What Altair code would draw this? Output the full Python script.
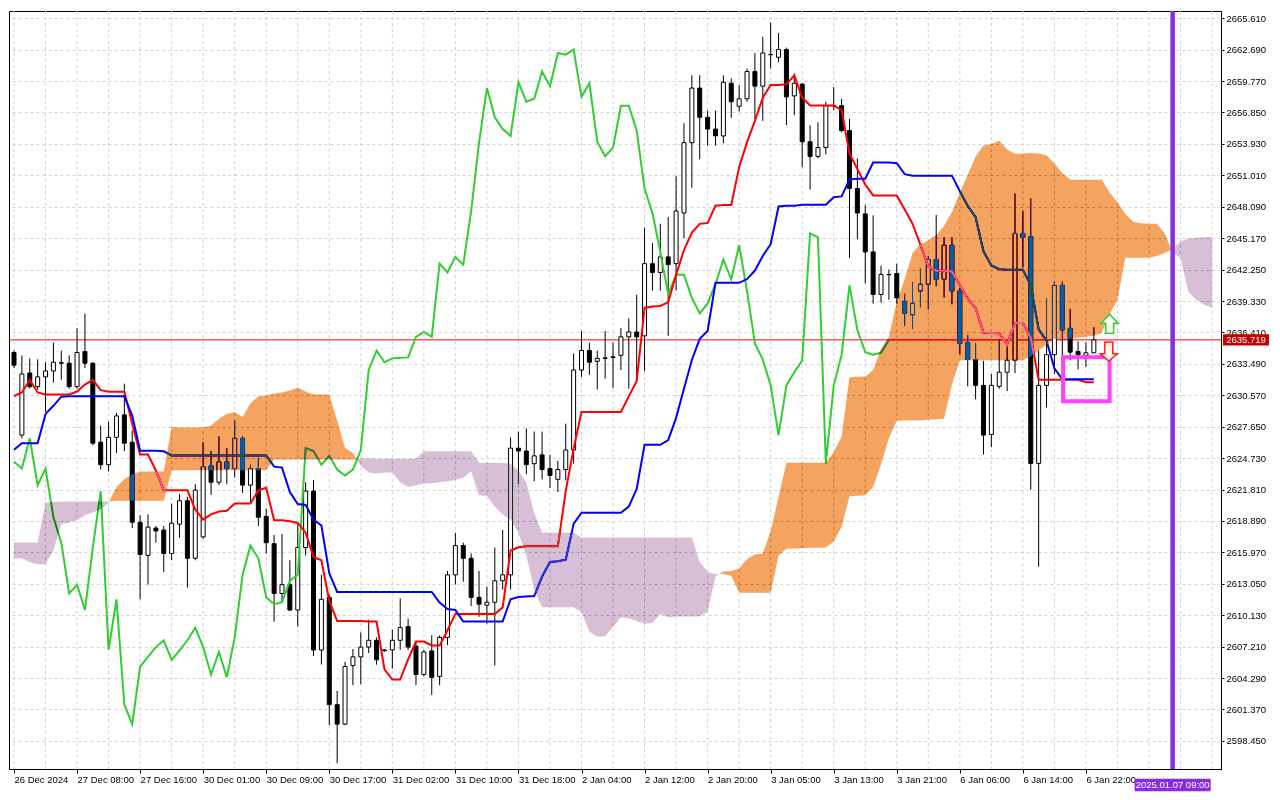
import altair as alt
import pandas as pd

# ---------------- data (hourly XAUUSD-like, Ichimoku) ----------------
x_labels = ['26 Dec 2024', '27 Dec 08:00', '27 Dec 16:00', '30 Dec 01:00', '30 Dec 09:00',
            '30 Dec 17:00', '31 Dec 02:00', '31 Dec 10:00', '31 Dec 18:00', '2 Jan 04:00',
            '2 Jan 12:00', '2 Jan 20:00', '3 Jan 05:00', '3 Jan 13:00', '3 Jan 21:00',
            '6 Jan 06:00', '6 Jan 14:00', '6 Jan 22:00']
x_ticks = [0, 8, 16, 24, 32, 40, 48, 56, 64, 72, 80, 88, 96, 104, 112, 120, 128, 136]

y_ticks = [2598.450, 2601.370, 2604.290, 2607.210, 2610.130, 2613.050, 2615.970, 2618.890,
           2621.810, 2624.730, 2627.650, 2630.570, 2633.490, 2636.410, 2639.330, 2642.250,
           2645.170, 2648.090, 2651.010, 2653.930, 2656.850, 2659.770, 2662.690, 2665.610]

opens = [2634.55, 2626.87, 2632.64, 2631.37, 2632.28, 2632.83, 2633.60, 2633.55, 2631.37, 2634.64,
         2633.55, 2626.21, 2624.12, 2626.66, 2628.75, 2626.21, 2618.77, 2615.69, 2618.23, 2618.05,
         2615.87, 2618.59, 2620.77, 2615.42, 2617.41, 2624.03, 2622.49, 2624.39, 2623.76, 2626.57,
         2622.22, 2623.76, 2619.32, 2616.78, 2612.15, 2612.97, 2610.61, 2616.42, 2621.67, 2606.90,
         2611.79, 2601.82, 2600.01, 2605.45, 2606.26, 2607.17, 2607.80, 2606.90, 2606.90, 2607.80,
         2609.07, 2607.26, 2604.63, 2606.81, 2604.45, 2608.07, 2613.88, 2616.60, 2615.42, 2611.79,
         2611.07, 2611.34, 2613.33, 2613.88, 2625.66, 2625.39, 2624.21, 2625.03, 2623.76, 2622.76,
         2623.67, 2625.48, 2632.92, 2634.73, 2633.73, 2634.00, 2634.14, 2634.28, 2636.00, 2636.45,
         2636.09, 2642.80, 2641.98, 2643.43, 2642.80, 2647.51, 2654.04, 2659.12, 2656.40, 2655.31,
         2654.67, 2659.57, 2657.43, 2658.12, 2660.66, 2659.30, 2662.24, 2661.98, 2662.70, 2658.39,
         2659.48, 2654.13, 2652.77, 2653.59, 2657.48, 2657.48, 2655.17, 2649.78, 2647.42, 2643.89,
         2639.94, 2641.80, 2641.89, 2639.30, 2638.06, 2640.26, 2640.89, 2643.19, 2641.35, 2644.52,
         2640.26, 2635.48, 2633.89, 2631.49, 2626.93, 2631.40, 2632.71, 2633.82, 2645.61, 2645.31,
         2624.24, 2631.49, 2634.34, 2640.78, 2636.79, 2634.64, 2634.28, 2634.52]

highs = [2634.73, 2634.28, 2634.00, 2633.91, 2633.64, 2635.45, 2634.73, 2634.28, 2636.81, 2638.17,
         2633.64, 2627.75, 2628.11, 2628.93, 2631.65, 2627.29, 2619.41, 2619.50, 2618.41, 2618.41,
         2620.50, 2621.40, 2621.13, 2622.31, 2626.21, 2625.39, 2626.75, 2625.66, 2628.20, 2626.75,
         2624.12, 2624.76, 2620.04, 2617.59, 2617.68, 2615.24, 2618.59, 2622.49, 2622.67, 2613.88,
         2612.06, 2603.09, 2605.81, 2606.99, 2608.53, 2609.71, 2608.07, 2606.99, 2608.80, 2611.70,
         2609.80, 2607.71, 2606.90, 2608.26, 2608.26, 2614.24, 2617.78, 2616.87, 2615.87, 2614.24,
         2612.79, 2616.42, 2618.05, 2626.66, 2627.20, 2627.48, 2627.20, 2627.20, 2625.03, 2624.48,
         2627.93, 2634.46, 2636.54, 2635.45, 2634.73, 2636.54, 2635.45, 2636.81, 2637.72, 2639.90,
         2646.15, 2644.70, 2646.51, 2647.15, 2650.96, 2655.85, 2660.30, 2660.30, 2657.03, 2657.03,
         2660.30, 2660.02, 2659.39, 2660.93, 2662.38, 2663.88, 2665.21, 2664.24, 2662.88, 2660.48,
         2659.57, 2655.67, 2655.94, 2657.85, 2659.21, 2658.12, 2656.25, 2652.59, 2648.24, 2647.29,
         2642.62, 2642.25, 2642.80, 2640.01, 2641.08, 2642.34, 2643.52, 2647.33, 2645.25, 2645.25,
         2640.53, 2636.18, 2635.39, 2633.76, 2632.55, 2635.79, 2635.09, 2649.33, 2647.69, 2648.87,
         2634.73, 2639.62, 2641.14, 2641.14, 2638.60, 2635.57, 2635.48, 2636.90]

lows = [2633.10, 2626.57, 2631.19, 2631.10, 2629.02, 2631.74, 2632.01, 2631.19, 2631.19, 2633.10,
        2625.93, 2623.67, 2623.49, 2625.21, 2625.39, 2618.23, 2611.61, 2612.97, 2616.87, 2614.15,
        2615.24, 2617.32, 2612.70, 2615.24, 2617.23, 2621.31, 2622.22, 2622.31, 2622.94, 2621.49,
        2620.59, 2618.41, 2615.87, 2609.53, 2611.34, 2610.52, 2609.07, 2615.69, 2606.35, 2605.54,
        2599.92, 2596.38, 2599.92, 2603.63, 2603.72, 2606.62, 2605.54, 2606.72, 2605.17, 2606.90,
        2606.90, 2603.63, 2604.45, 2602.73, 2603.63, 2607.35, 2612.97, 2613.24, 2610.98, 2609.98,
        2609.34, 2605.45, 2612.52, 2612.52, 2622.31, 2623.22, 2622.58, 2622.76, 2621.95, 2621.58,
        2622.67, 2624.21, 2632.28, 2632.46, 2631.10, 2632.10, 2631.24, 2632.92, 2631.19, 2632.01,
        2632.83, 2640.30, 2640.30, 2636.09, 2640.30, 2645.15, 2649.87, 2652.50, 2653.77, 2653.77,
        2653.99, 2656.35, 2656.94, 2657.85, 2656.25, 2656.07, 2660.93, 2661.52, 2655.67, 2656.61,
        2651.77, 2649.69, 2652.59, 2652.95, 2657.07, 2654.99, 2643.34, 2645.06, 2640.98, 2639.08,
        2639.17, 2639.44, 2639.08, 2637.00, 2636.72, 2638.75, 2638.56, 2640.71, 2639.65, 2639.02,
        2634.37, 2631.40, 2630.20, 2625.06, 2625.75, 2631.17, 2630.95, 2632.62, 2642.44, 2621.79,
        2614.63, 2629.44, 2632.55, 2633.82, 2633.82, 2632.98, 2633.22, 2634.46]

closes = [2633.37, 2632.55, 2631.37, 2632.28, 2632.83, 2633.64, 2633.55, 2631.37, 2634.55, 2633.55,
          2626.12, 2624.12, 2626.66, 2628.65, 2626.12, 2618.77, 2615.78, 2618.32, 2617.96, 2615.87,
          2618.68, 2620.77, 2615.42, 2621.76, 2623.94, 2622.49, 2624.39, 2623.76, 2626.57, 2622.22,
          2623.76, 2619.23, 2616.87, 2612.15, 2612.97, 2610.61, 2616.42, 2621.67, 2606.90, 2611.61,
          2601.82, 2600.01, 2605.36, 2606.26, 2607.17, 2607.80, 2605.99, 2606.85, 2607.80, 2608.98,
          2607.17, 2604.63, 2606.72, 2604.36, 2608.07, 2613.88, 2616.60, 2615.42, 2611.79, 2611.16,
          2611.34, 2613.33, 2613.88, 2625.66, 2625.39, 2624.12, 2624.94, 2623.67, 2623.12, 2623.67,
          2625.48, 2632.92, 2634.73, 2633.64, 2634.00, 2634.05, 2634.09, 2636.00, 2636.45, 2636.00,
          2642.80, 2641.98, 2643.43, 2642.71, 2647.69, 2654.04, 2659.12, 2656.40, 2655.31, 2654.67,
          2659.66, 2657.85, 2658.12, 2660.66, 2659.30, 2662.38, 2662.22, 2662.70, 2658.30, 2659.57,
          2654.13, 2652.77, 2653.59, 2657.48, 2657.47, 2655.17, 2649.78, 2647.51, 2643.89, 2639.94,
          2641.80, 2641.77, 2639.62, 2638.17, 2639.11, 2640.89, 2643.19, 2641.35, 2644.52, 2640.26,
          2635.39, 2633.89, 2631.49, 2626.87, 2631.49, 2632.71, 2633.82, 2645.61, 2645.25, 2624.24,
          2631.49, 2634.34, 2640.78, 2636.63, 2634.58, 2634.34, 2634.52, 2635.719]

tenkan = [2630.50, 2630.83, 2632.01, 2630.83, 2630.65, 2630.65, 2630.65, 2630.65, 2630.92, 2631.56,
          2632.01, 2631.04, 2630.89, 2630.89, 2630.89, 2627.93, 2625.06, 2625.06, 2623.58, 2621.74,
          2621.74, 2621.74, 2621.74, 2619.95, 2619.02, 2619.50, 2619.77, 2619.83, 2620.52, 2620.52,
          2620.52, 2621.74, 2621.97, 2618.95, 2618.95, 2618.86, 2618.71, 2617.80, 2615.54, 2615.24,
          2611.46, 2609.59, 2609.59, 2609.59, 2609.59, 2609.55, 2609.55, 2605.11, 2604.15, 2604.15,
          2606.02, 2607.68, 2607.68, 2607.32, 2607.32, 2608.74, 2610.25, 2610.25, 2610.25, 2610.25,
          2610.25, 2610.25, 2610.86, 2616.14, 2616.44, 2616.53, 2616.53, 2616.53, 2616.53, 2616.53,
          2621.67, 2625.61, 2629.02, 2629.02, 2629.02, 2629.02, 2629.02, 2629.02, 2630.47, 2631.88,
          2638.69, 2638.81, 2638.87, 2639.23, 2641.74, 2644.07, 2645.68, 2646.50, 2646.57, 2648.18,
          2648.26, 2648.26, 2651.77, 2654.09, 2656.07, 2658.22, 2659.40, 2659.40, 2659.48, 2660.30,
          2658.22, 2657.50, 2657.50, 2657.50, 2657.50, 2657.07, 2653.02, 2651.59, 2650.16, 2649.14,
          2649.14, 2649.14, 2649.14, 2647.83, 2646.51, 2644.55, 2642.53, 2642.14, 2642.14, 2642.07,
          2640.78, 2639.56, 2638.65, 2636.39, 2636.36, 2636.33, 2635.27, 2637.29, 2637.29, 2635.93,
          2632.01, 2632.01, 2632.01, 2632.01, 2632.01, 2632.01, 2631.78, 2631.78]

kijun = [2625.51, 2626.12, 2626.12, 2626.12, 2628.84, 2629.59, 2630.44, 2630.47, 2630.47, 2630.47,
         2630.47, 2630.47, 2630.47, 2630.47, 2630.47, 2628.68, 2625.42, 2625.42, 2625.42, 2625.36,
         2624.98, 2624.98, 2624.98, 2624.98, 2624.98, 2624.98, 2624.98, 2624.98, 2624.98, 2624.98,
         2624.98, 2624.98, 2624.98, 2623.94, 2623.85, 2621.58, 2620.47, 2620.38, 2619.02, 2618.47,
         2614.03, 2612.29, 2612.29, 2612.29, 2612.29, 2612.29, 2612.29, 2612.29, 2612.29, 2612.29,
         2612.29, 2612.29, 2612.29, 2612.29, 2611.31, 2610.70, 2610.61, 2609.55, 2609.55, 2609.55,
         2609.55, 2609.55, 2609.55, 2611.61, 2611.82, 2611.86, 2611.91, 2613.72, 2615.08, 2615.15,
         2615.29, 2618.62, 2619.66, 2619.66, 2619.66, 2619.66, 2619.66, 2619.66, 2620.23, 2621.86,
         2625.97, 2625.97, 2625.97, 2626.40, 2628.47, 2631.17, 2633.85, 2635.82, 2636.54, 2641.02,
         2641.02, 2641.02, 2641.02, 2641.37, 2642.16, 2643.52, 2644.61, 2648.11, 2648.18, 2648.18,
         2648.27, 2648.27, 2648.27, 2648.27, 2648.97, 2649.05, 2650.62, 2650.69, 2650.69, 2652.20,
         2652.20, 2652.20, 2652.14, 2651.12, 2650.98, 2650.98, 2650.98, 2650.98, 2650.98, 2650.98,
         2649.53, 2648.17, 2647.12, 2643.95, 2642.64, 2642.28, 2642.23, 2642.23, 2642.23, 2640.78,
         2636.70, 2635.64, 2633.07, 2632.05, 2632.05, 2632.05, 2632.05, 2632.05]

senkou_a = [2615.42, 2615.42, 2615.06, 2614.87, 2614.87, 2616.14, 2618.59, 2618.77, 2618.95, 2619.41,
            2619.68, 2619.95, 2620.59, 2622.04, 2622.76, 2623.24, 2623.49, 2623.49, 2623.49, 2623.49,
            2627.63, 2627.57, 2627.57, 2627.57, 2627.57, 2627.75, 2628.38, 2628.84, 2629.02, 2628.56,
            2629.83, 2630.47, 2630.56, 2630.74, 2630.83, 2631.01, 2631.26, 2630.92, 2630.65, 2630.65,
            2630.65, 2628.23, 2625.66, 2625.21, 2624.03, 2623.40, 2623.31, 2623.40, 2623.40, 2622.49,
            2622.04, 2622.22, 2622.34, 2622.40, 2622.49, 2622.58, 2622.70, 2622.94, 2623.49, 2621.28,
            2621.22, 2620.22, 2619.50, 2619.02, 2617.80, 2615.69, 2612.52, 2610.86, 2610.86, 2610.86,
            2610.86, 2610.86, 2610.43, 2608.62, 2608.14, 2608.17, 2609.04, 2609.95, 2609.86, 2609.59,
            2609.34, 2609.43, 2610.25, 2609.95, 2610.01, 2610.01, 2610.01, 2610.01, 2610.43, 2613.72,
            2614.19, 2614.24, 2614.48, 2615.36, 2615.78, 2615.87, 2617.96, 2621.13, 2624.30, 2624.30,
            2624.30, 2624.30, 2624.30, 2624.30, 2625.30, 2626.75, 2632.25, 2632.28, 2632.31, 2632.92,
            2634.91, 2636.00, 2639.26, 2641.35, 2643.79, 2644.61, 2644.97, 2645.43, 2646.33, 2647.60,
            2649.42, 2651.05, 2652.77, 2653.77, 2653.92, 2654.22, 2653.40, 2653.01, 2653.04, 2653.09,
            2653.04, 2652.86, 2652.14, 2651.23, 2650.59, 2650.59, 2650.59, 2650.59, 2650.59, 2649.42,
            2648.51, 2647.42, 2646.70, 2646.56, 2646.51, 2646.51, 2645.61, 2643.79, 2643.34, 2640.17,
            2639.44, 2638.99, 2638.72]

senkou_b = [2616.90, 2616.90, 2616.90, 2616.90, 2620.59, 2620.68, 2620.68, 2620.70, 2620.70, 2620.70,
            2620.70, 2620.70, 2620.70, 2620.77, 2620.77, 2620.77, 2620.77, 2620.77, 2620.77, 2620.77,
            2623.58, 2623.61, 2623.61, 2623.61, 2623.61, 2623.61, 2623.61, 2623.61, 2623.61, 2623.61,
            2623.61, 2623.61, 2623.61, 2624.60, 2624.60, 2624.60, 2624.60, 2624.60, 2624.60, 2624.60,
            2624.60, 2624.60, 2624.60, 2624.60, 2624.71, 2624.69, 2624.67, 2624.67, 2624.67, 2624.67,
            2624.67, 2624.67, 2625.36, 2625.36, 2625.36, 2625.36, 2625.36, 2625.36, 2625.36, 2624.30,
            2624.30, 2624.30, 2624.30, 2624.21, 2623.55, 2622.49, 2619.62, 2617.80, 2617.80, 2617.80,
            2617.80, 2617.80, 2617.35, 2617.35, 2617.35, 2617.35, 2617.35, 2617.35, 2617.35, 2617.35,
            2617.35, 2617.35, 2617.35, 2617.35, 2617.35, 2617.35, 2617.35, 2615.08, 2614.18, 2613.94,
            2613.97, 2613.81, 2612.22, 2612.22, 2612.22, 2612.22, 2612.22, 2615.69, 2616.30, 2616.33,
            2616.35, 2616.39, 2616.39, 2616.39, 2617.01, 2618.32, 2621.19, 2621.24, 2621.28, 2622.04,
            2624.12, 2626.57, 2628.20, 2628.23, 2628.23, 2628.23, 2628.29, 2628.34, 2628.38, 2631.56,
            2633.82, 2633.82, 2633.82, 2633.82, 2633.82, 2633.82, 2633.82, 2633.82, 2633.82, 2634.18,
            2634.73, 2635.27, 2635.82, 2635.64, 2635.82, 2635.91, 2636.00, 2636.09, 2636.39, 2638.08,
            2639.44, 2643.34, 2643.34, 2643.34, 2643.34, 2643.52, 2643.79, 2644.16, 2644.86, 2645.15,
            2645.20, 2645.25, 2645.29]

chikou_shift = 26
last_price = 2635.719
vline_idx = 147
vline_label = "2025.01.07 09:00"
box_idx = [133.1, 139.0]
box_price = [2634.10, 2630.02]
buy_arrow = {"i": 139.0, "p": 2637.22}
sell_arrow = {"i": 138.9, "p": 2634.64}

# ---------------- build tables ----------------
n = len(closes)
candles = pd.DataFrame({"i": list(range(n)), "o": opens, "h": highs, "l": lows, "c": closes})
up = candles[candles.c >= candles.o]
dn = candles[candles.c < candles.o]
lines = pd.DataFrame({"i": list(range(n)), "tenkan": tenkan, "kijun": kijun})
chikou = pd.DataFrame({"i": list(range(n - chikou_shift)), "p": closes[chikou_shift:]})

rows = []
for k in range(len(senkou_a)):
    a, b = senkou_a[k], senkou_b[k]
    rows.append((float(k), a, b))
    if k + 1 < len(senkou_a):
        a2, b2 = senkou_a[k + 1], senkou_b[k + 1]
        d1, d2 = a - b, a2 - b2
        if d1 * d2 < 0:
            t = d1 / (d1 - d2)
            rows.append((k + t, a + (a2 - a) * t, b + (b2 - b) * t))
cloud = pd.DataFrame(rows, columns=["i", "a", "b"])
cloud["top"] = cloud[["a", "b"]].max(axis=1)

# ---------------- scales / axes ----------------
W, H = 1212, 758
FONT = "Liberation Sans"
xs = alt.Scale(domain=[0, 152.5], nice=False, zero=False)
ys = alt.Scale(domain=[2595.84, 2666.28], nice=False, zero=False)
label_expr = "[" + ",".join("'" + s + "'" for s in x_labels) + "][round(datum.value / 8)]"
xax = alt.Axis(values=x_ticks, labelExpr=label_expr, title=None, grid=False, orient="bottom",
               labelAlign="left", labelBaseline="top", labelPadding=1, tickSize=4,
               tickColor="black", domainColor="black", labelColor="black", labelFont=FONT,
               labelFontSize=9.5, labelFlush=False, labelOverlap=False)
yax = alt.Axis(values=y_ticks, format=".3f", title=None, orient="right", grid=True,
               gridColor="#d2d2d2", gridDash=[3, 3], gridWidth=1, tickSize=3, tickColor="black",
               domainColor="black", labelColor="black", labelFont=FONT, labelFontSize=9.5,
               labelPadding=2, labelOverlap=False, labelFlush=False)


def X(f):
    return alt.X(f, scale=xs, axis=xax)


def Y(f):
    return alt.Y(f, scale=ys, axis=yax)


grid_x = alt.Chart(pd.DataFrame({"i": list(range(0, 153, 4))})).mark_rule(
    color="#d2d2d2", strokeDash=[3, 3], strokeWidth=1).encode(
    x=X("i:Q"), y=alt.value(0), y2=alt.value(H))

price_df = pd.DataFrame({"p": [last_price]})
price_line = alt.Chart(price_df).mark_rule(color="#ff0000", strokeWidth=1).encode(
    y=Y("p:Q"), x=alt.value(0), x2=alt.value(W))

wicks = alt.Chart(candles).mark_rule(color="black", strokeWidth=1, clip=True).encode(
    x=X("i:Q"), y=Y("l:Q"), y2="h:Q")
bodies_up = alt.Chart(up).mark_bar(width=4, fill="white", stroke="black", strokeWidth=1,
                                   clip=True).encode(x=X("i:Q"), y=Y("o:Q"), y2="c:Q")
bodies_dn = alt.Chart(dn).mark_bar(width=4, fill="black", stroke="black", strokeWidth=1,
                                   clip=True).encode(x=X("i:Q"), y=Y("o:Q"), y2="c:Q")

chikou_line = alt.Chart(chikou).mark_line(color="#32cd32", strokeWidth=2).encode(
    x=X("i:Q"), y=Y("p:Q"))
tenkan_line = alt.Chart(lines).mark_line(color="#ff0000", strokeWidth=2).encode(
    x=X("i:Q"), y=Y("tenkan:Q"))
kijun_line = alt.Chart(lines).mark_line(color="#0000ff", strokeWidth=2).encode(
    x=X("i:Q"), y=Y("kijun:Q"))

# cloud: drawn with inverted colours and 'difference' blending (gives sandybrown / thistle on
# white and inverted tones over the dark candles and lines, like the terminal does)
cloud_up = alt.Chart(cloud).mark_area(color="#0b5b9f", blend="difference", opacity=1).encode(
    x=X("i:Q"), y=Y("top:Q"), y2="b:Q")
cloud_dn = alt.Chart(cloud).mark_area(color="#274027", blend="difference", opacity=1).encode(
    x=X("i:Q"), y=Y("top:Q"), y2="a:Q")

box_df = pd.DataFrame({"x1": [box_idx[0]], "x2": [box_idx[1]], "p1": [box_price[0]],
                       "p2": [box_price[1]]})
box = alt.Chart(box_df).mark_rect(fill="transparent", stroke="#ff40ff", strokeWidth=4).encode(
    x=X("x1:Q"), x2="x2:Q", y=Y("p1:Q"), y2="p2:Q")

UP_ARROW = "M-0.42,1L0.42,1L0.42,-0.05L0.9,-0.05L0,-1L-0.9,-0.05L-0.42,-0.05Z"
DN_ARROW = "M-0.42,-1L0.42,-1L0.42,0.25L0.9,0.25L0,1L-0.9,0.25L-0.42,0.25Z"
buy = alt.Chart(pd.DataFrame({"i": [buy_arrow["i"]], "p": [buy_arrow["p"]]})).mark_point(
    shape=UP_ARROW, filled=True, fill="#fbfff0", stroke="#3cc83c", strokeWidth=1.5, size=361,
    opacity=1).encode(x=X("i:Q"), y=Y("p:Q"))
sell = alt.Chart(pd.DataFrame({"i": [sell_arrow["i"]], "p": [sell_arrow["p"]]})).mark_point(
    shape=DN_ARROW, filled=True, fill="#fff6f0", stroke="#ff2020", strokeWidth=1.5, size=361,
    opacity=1).encode(x=X("i:Q"), y=Y("p:Q"))

vdf = pd.DataFrame({"i": [vline_idx], "t": [vline_label]})
vline = alt.Chart(vdf).mark_rule(color="#8a2be2", strokeWidth=4.5).encode(
    x=X("i:Q"), y=alt.value(0), y2=alt.value(H))
vbox = alt.Chart(vdf).mark_point(shape="M-1,-0.167L1,-0.167L1,0.167L-1,0.167Z", filled=True,
                                 color="#8a2be2", size=76 * 76, opacity=1, strokeWidth=0).encode(
    x=X("i:Q"), y=alt.value(H + 16))
vtext = alt.Chart(vdf).mark_text(color="white", font=FONT, fontSize=9.5, align="center",
                                 baseline="middle").encode(
    x=X("i:Q"), y=alt.value(H + 16), text="t:N")

pbox = alt.Chart(price_df).mark_point(shape="M-1,-0.24L1,-0.24L1,0.24L-1,0.24Z", filled=True,
                                      color="#c80000", size=46 * 46, opacity=1,
                                      strokeWidth=0).encode(x=alt.value(W + 25), y=Y("p:Q"))
ptext = alt.Chart(price_df).mark_text(color="white", font=FONT, fontSize=9.5, align="center",
                                      baseline="middle").encode(
    x=alt.value(W + 25), y=Y("p:Q"), text=alt.Text("p:Q", format=".3f"))

chart = alt.layer(
    grid_x, price_line, wicks, bodies_up, bodies_dn, chikou_line, tenkan_line, kijun_line,
    cloud_up, cloud_dn, box, buy, sell, vline, vbox, vtext, pbox, ptext
).properties(width=W, height=H, padding=0).configure(background="white").configure_view(
    stroke="black", strokeWidth=1, fill="white")

chart.save("out.html", embed_options={"renderer": "svg", "actions": False})
